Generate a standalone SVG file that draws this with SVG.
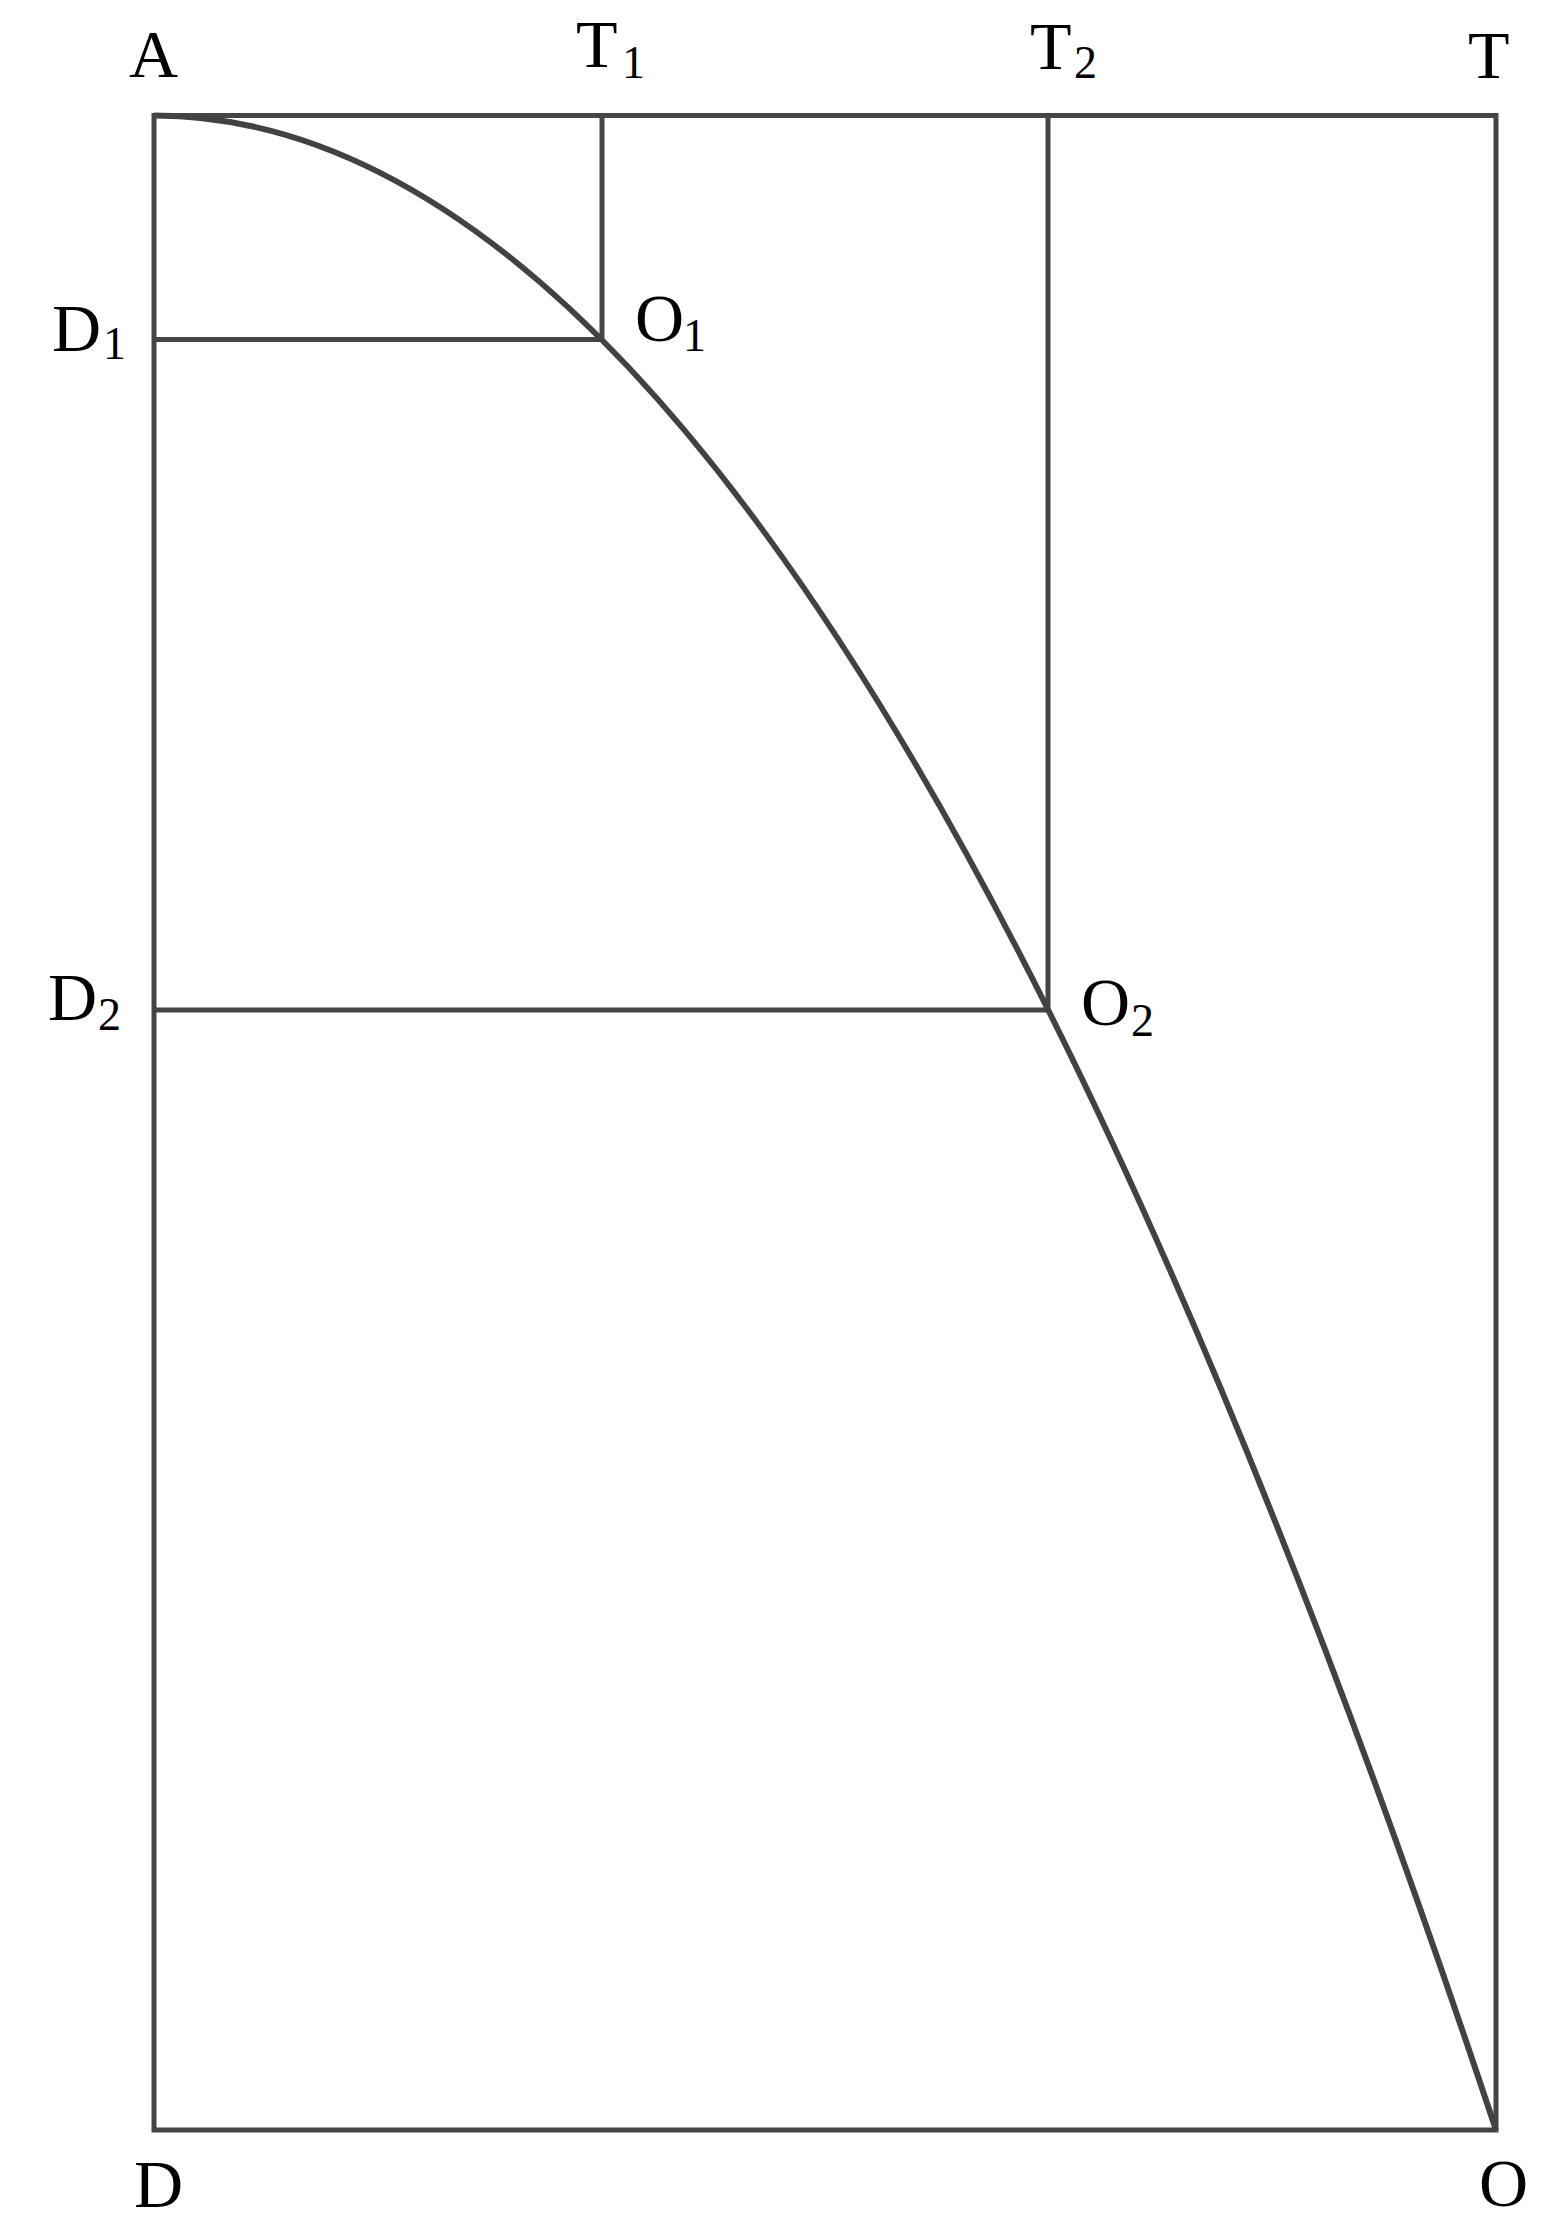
<svg xmlns="http://www.w3.org/2000/svg" width="1551" height="2230" viewBox="0 0 1551 2230">
<style>
.ln{stroke:#454545;stroke-width:5;fill:none;stroke-linecap:butt}
.cv{stroke:#424242;stroke-width:6;fill:none}
.lb{font-family:"Liberation Serif","DejaVu Serif",serif;font-size:68px;fill:#000}
.sb{font-size:46px}
</style>
<rect width="1551" height="2230" fill="#fff"/>
<g id="connectors">
<rect class="ln" x="154" y="115.5" width="1342" height="2014.5"/>
<line class="ln" x1="602" y1="115.5" x2="602" y2="339.5"/>
<line class="ln" x1="154" y1="339.5" x2="602" y2="339.5"/>
<line class="ln" x1="1048" y1="115.5" x2="1048" y2="1010"/>
<line class="ln" x1="154" y1="1010" x2="1048" y2="1010"/>
<path id="curve" class="cv" d="M154,115.5 Q825,115.5 1496,2130"/>
</g>
<g id="A"><text class="lb" x="129" y="77">A</text></g>
<g id="T1"><text class="lb" x="576" y="67">T</text><text class="lb sb" x="622" y="78">1</text></g>
<g id="T2"><text class="lb" x="1030" y="69">T</text><text class="lb sb" x="1074" y="78">2</text></g>
<g id="T"><text class="lb" x="1468" y="78">T</text></g>
<g id="D1"><text class="lb" x="52" y="351">D</text><text class="lb sb" x="103" y="359">1</text></g>
<g id="O1"><text class="lb" x="635" y="341">O</text><text class="lb sb" x="683" y="351">1</text></g>
<g id="D2"><text class="lb" x="48" y="1020">D</text><text class="lb sb" x="98" y="1030">2</text></g>
<g id="O2"><text class="lb" x="1081" y="1025">O</text><text class="lb sb" x="1131" y="1036">2</text></g>
<g id="D"><text class="lb" x="134" y="2207">D</text></g>
<g id="O"><text class="lb" x="1479" y="2206">O</text></g>
</svg>
